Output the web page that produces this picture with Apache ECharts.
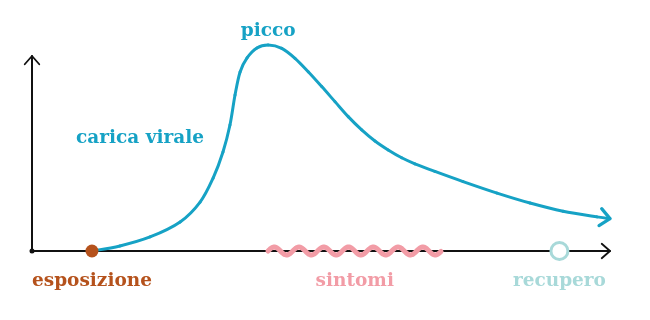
<!DOCTYPE html>
<html>
<head>
<meta charset="utf-8">
<script src="https://cdn.jsdelivr.net/npm/echarts@6/dist/echarts.min.js"></script>
<style>html,body{margin:0;padding:0;background:#fff}#c{width:650px;height:320px}</style>
</head>
<body>
<div id="c"></div>
<script>
// viral load curve (days after start, arbitrary load units)
const curveDay  = [2.49, 3.65, 4.90, 6.15, 6.98, 7.52, 7.93, 8.22, 8.43, 8.64, 8.93, 9.34, 9.81, 10.37, 10.92, 11.47, 12.03, 12.58, 13.13, 13.69, 14.24, 14.79, 15.35, 15.90, 16.73, 17.90, 19.31, 20.68, 22.05, 23.46, 24.0];
const curveLoad = [0, 0.26, 0.72, 1.49, 2.51, 3.74, 5.08, 6.46, 8.0, 9.18, 9.90, 10.41, 10.56, 10.39, 9.88, 9.19, 8.43, 7.66, 6.89, 6.21, 5.64, 5.18, 4.78, 4.47, 4.08, 3.56, 2.97, 2.46, 2.04, 1.75, 1.66];
// events on the timeline
const eventNames = ['esposizione', 'sintomi', 'recupero'];
const eventStart = [2.49, 9.8, 21.9];
const eventEnd   = [2.49, 17.0, 21.9];
const curveLabel = 'carica virale';
const peakLabel = 'picco';
const peakDay = 9.81, peakLoad = 10.56;
const xMax = 24, yMax = 10;

const FONT = '"DejaVu Serif", serif';
const FS = 18.5;
const BLUE = '#16a2c5', RUST = '#b5521c', PINK = '#f29ca6', AQUA = '#a8d9d9';
const eventColors = [RUST, PINK, AQUA];

const chart = echarts.init(document.getElementById('c'), null, {renderer: 'canvas'});

const curveData = curveDay.map((d, i) => [d, curveLoad[i]]);
const n = curveData.length;

function chevron(api, tip, from, len, color, width) {
  const p = api.coord(tip), q = api.coord(from);
  const ang = Math.atan2(p[1] - q[1], p[0] - q[0]);
  const a = 0.72;
  const w1 = [p[0] - len * Math.cos(ang - a), p[1] - len * Math.sin(ang - a)];
  const w2 = [p[0] - len * Math.cos(ang + a), p[1] - len * Math.sin(ang + a)];
  return {type: 'polyline', shape: {points: [w1, p, w2]},
    style: {stroke: color, lineWidth: width, fill: null, lineCap: 'round', lineJoin: 'round'}};
}

chart.setOption({
  animation: false,
  grid: {left: 32, right: 40, top: 56, bottom: 69},
  xAxis: {type: 'value', min: 0, max: xMax, axisLine: {show: true, lineStyle: {color: '#111', width: 2}},
    axisTick: {show: false}, axisLabel: {show: false}, splitLine: {show: false}},
  yAxis: {type: 'value', min: 0, max: yMax, axisLine: {show: true, lineStyle: {color: '#111', width: 2}},
    axisTick: {show: false}, axisLabel: {show: false}, splitLine: {show: false}},
  graphic: [{type: 'text', x: 140, y: 138, z: 10,
    style: {text: curveLabel, fill: BLUE, font: 'bold ' + FS + 'px ' + FONT, align: 'center', verticalAlign: 'middle'}}],
  series: [
    { // symptoms wave
      type: 'custom', z: 3, clip: false,
      data: [[eventStart[1], eventEnd[1]]],
      renderItem: function (params, api) {
        const p0 = api.coord([api.value(0), 0]), p1 = api.coord([api.value(1), 0]);
        const len = p1[0] - p0[0];
        const waves = 7, amp = 4;
        const pts = [];
        for (let t = 0; t <= len; t += 1) {
          pts.push([p0[0] + t, p0[1] - amp * Math.sin(2 * Math.PI * waves * t / len)]);
        }
        return {type: 'polyline', shape: {points: pts, smooth: 0},
          style: {stroke: PINK, lineWidth: 5, fill: null, lineCap: 'round', lineJoin: 'round'}};
      }
    },
    { // viral load curve (Catmull-Rom spline through the data points)
      type: 'custom', z: 4, clip: false,
      data: [[0]],
      renderItem: function (params, api) {
        const P = curveData.map(d => api.coord(d));
        const children = [];
        for (let i = 0; i < P.length - 1; i++) {
          const p0 = P[Math.max(0, i - 1)], p1 = P[i], p2 = P[i + 1], p3 = P[Math.min(P.length - 1, i + 2)];
          children.push({type: 'bezierCurve',
            shape: {x1: p1[0], y1: p1[1], x2: p2[0], y2: p2[1],
              cpx1: p1[0] + (p2[0] - p0[0]) / 6, cpy1: p1[1] + (p2[1] - p0[1]) / 6,
              cpx2: p2[0] - (p3[0] - p1[0]) / 6, cpy2: p2[1] - (p3[1] - p1[1]) / 6},
            style: {stroke: BLUE, lineWidth: 3, fill: null, lineCap: 'round'}});
        }
        return {type: 'group', children: children};
      }
    },
    { // arrowheads
      type: 'custom', z: 5, clip: false,
      data: [[0]],
      renderItem: function (params, api) {
        return {type: 'group', children: [
          chevron(api, [xMax, 0], [xMax - 1, 0], 11, '#111', 1.8),
          chevron(api, [0, yMax], [0, yMax - 1], 11, '#111', 1.8),
          chevron(api, curveData[n - 1], curveData[n - 3], 13, BLUE, 3.2)
        ]};
      }
    },
    { // origin dot
      type: 'scatter', z: 6, symbolSize: 5, itemStyle: {color: '#111', opacity: 1}, data: [[0, 0]], clip: false
    },
    { // exposure dot
      type: 'scatter', z: 6, symbolSize: 13, itemStyle: {color: RUST, opacity: 1}, data: [[eventStart[0], 0]], clip: false
    },
    { // recovery circle
      type: 'scatter', z: 6, symbolSize: 17, clip: false,
      itemStyle: {color: '#fff', borderColor: AQUA, borderWidth: 3, opacity: 1},
      data: [[eventStart[2], 0]]
    },
    { // event labels
      type: 'scatter', z: 7, symbolSize: 0, silent: true, clip: false,
      itemStyle: {opacity: 1},
      data: eventNames.map((nm, i) => ({
        name: nm, value: [(eventStart[i] + eventEnd[i]) / 2, 0],
        label: {color: eventColors[i]}
      })),
      label: {show: true, position: 'bottom', distance: 21, formatter: '{b}',
        fontFamily: FONT, fontWeight: 'bold', fontSize: FS}
    },
    { // peak label
      type: 'scatter', z: 7, symbolSize: 0, silent: true, clip: false,
      itemStyle: {opacity: 1},
      data: [{name: peakLabel, value: [peakDay, peakLoad]}],
      label: {show: true, position: 'top', distance: 4, formatter: '{b}', color: BLUE,
        fontFamily: FONT, fontWeight: 'bold', fontSize: FS}
    }
  ]
});
</script>
</body>
</html>
